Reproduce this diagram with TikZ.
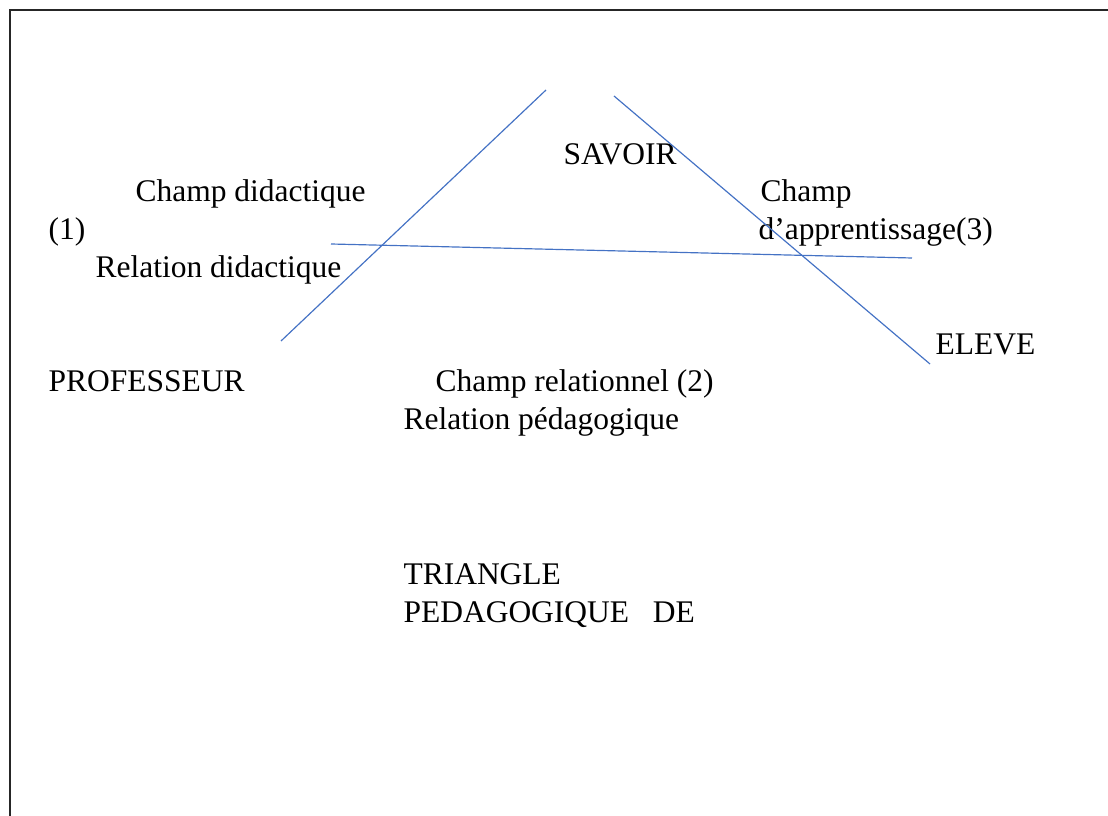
\documentclass[tikz,border=0pt]{standalone}
\usepackage{fontspec}
\setmainfont{Liberation Serif}
\usetikzlibrary{positioning}
\definecolor{wordblue}{RGB}{68,114,196}
\tikzset{
    label/.style={anchor=base west, inner sep=0pt, font=\fontsize{12}{14.4}\selectfont},
    side/.style={draw=wordblue, line width=0.45pt},
    frame/.style={draw=black!85, line width=0.55pt},
}

\begin{document}
\begin{tikzpicture}
        [x=0.381pt, y=-0.381pt]

        \useasboundingbox (0,0) rectangle (1108,816);

        % Page frame
        \draw[frame] (1120,10) -- (10,10) -- (10,830);

        % Poles of the triangle
        \node[label] (savoir) at (563,165) {SAVOIR};
        \node[label] (prof) at (48,392) {PROFESSEUR};
        \node[label] (eleve) at (935,355) {ELEVE};

        % Fields and relations
        \node[label] (champdid) at (135,202) {Champ didactique};
        \node[label] (num1) at (48,240) {(1)};
        \node[label] (reldid) at (95,278) {Relation didactique};
        \node[label] (champapp) at (760,202) {Champ};
        \node[label] (apprent) at (758,240) {d’apprentissage(3)};
        \node[label] (champrel) at (435,392) {Champ relationnel (2)};
        \node[label] (relped) at (403,430) {Relation pédagogique};

        % Title
        \node[label] (triangle) at (403,585) {TRIANGLE};
        \node[label] (pedde) at (403,623) {PEDAGOGIQUE\ \ \ DE};

        % Sides of the triangle
        \coordinate (profend) at (281,341);
        \coordinate (savleft) at (546,90);
        \coordinate (savright) at (614,96);
        \coordinate (eleveend) at (930,364);
        \coordinate (didend) at (331,244);
        \coordinate (append) at (912,258);

        \draw[side] (profend) -- (savleft);
        \draw[side] (savright) -- (eleveend);
        \draw[side] (didend) -- (append);
    \end{tikzpicture}
\end{document}
